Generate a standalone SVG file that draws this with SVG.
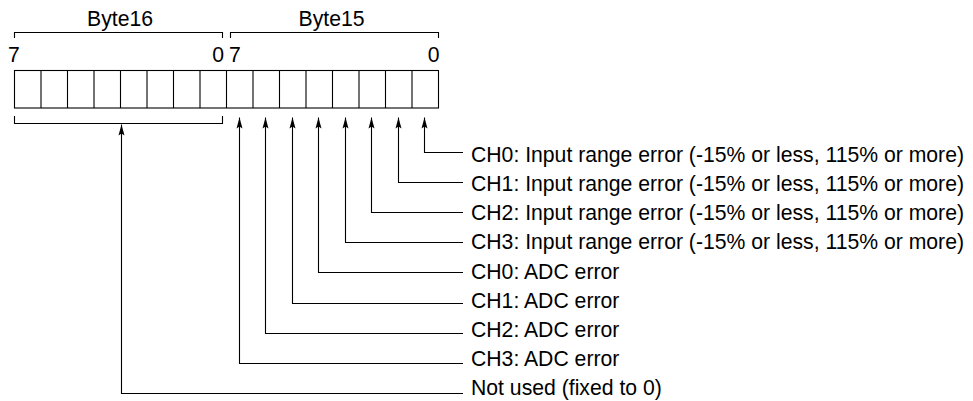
<svg xmlns="http://www.w3.org/2000/svg" width="973" height="401" viewBox="0 0 973 401">
<style>
  text { font-family: "Liberation Sans", Arial, Helvetica, sans-serif; font-size: 21.2px; fill: #000; }
  .ln { fill: none; stroke: #000; stroke-width: 1.1; }
  .cell { fill: #fff; stroke: #000; stroke-width: 1.1; }
</style>
<defs>
  <marker id="arr" markerUnits="userSpaceOnUse" markerWidth="11" markerHeight="7" refX="11" refY="3.5" orient="auto">
    <path d="M0,0.5 L11,3.5 L0,6.5 L2,3.5 z" fill="#000"/>
  </marker>
</defs>

<g id="byte16-header">
  <text x="120" y="26" text-anchor="middle">Byte16</text>
  <path class="ln" d="M14.5,38 V32.5 H222.5 V38"/>
  <text x="8" y="62">7</text>
  <text x="224" y="62" text-anchor="end">0</text>
</g>
<g id="byte15-header">
  <text x="331.5" y="26" text-anchor="middle">Byte15</text>
  <path class="ln" d="M230.5,38 V32.5 H438.5 V38"/>
  <text x="229" y="62">7</text>
  <text x="439.5" y="62" text-anchor="end">0</text>
</g>

<g id="register">
  <rect class="cell" x="14.5" y="70.5" width="424" height="37.5"/>
  <path class="ln" d="M41,70.5 V108 M67.5,70.5 V108 M94,70.5 V108 M120.5,70.5 V108 M147,70.5 V108 M173.5,70.5 V108 M200,70.5 V108 M226.5,70.5 V108 M253,70.5 V108 M279.5,70.5 V108 M306,70.5 V108 M332.5,70.5 V108 M359,70.5 V108 M385.5,70.5 V108 M412,70.5 V108"/>
</g>

<g id="byte16-bracket">
  <path class="ln" d="M14.5,116 V123.5 H222.5 V116"/>
</g>

<g id="connectors">
  <path class="ln" marker-end="url(#arr)" d="M463,152.5 H424.5 V117.5"/>
  <path class="ln" marker-end="url(#arr)" d="M463,182.5 H398.5 V117.5"/>
  <path class="ln" marker-end="url(#arr)" d="M463,212.5 H371.5 V117.5"/>
  <path class="ln" marker-end="url(#arr)" d="M463,242.5 H345.5 V117.5"/>
  <path class="ln" marker-end="url(#arr)" d="M463,272.5 H318.5 V117.5"/>
  <path class="ln" marker-end="url(#arr)" d="M463,303.5 H292.5 V117.5"/>
  <path class="ln" marker-end="url(#arr)" d="M463,333.5 H265.5 V117.5"/>
  <path class="ln" marker-end="url(#arr)" d="M463,363.5 H239.5 V117.5"/>
  <path class="ln" marker-end="url(#arr)" d="M463,393.5 H121.5 V124.5"/>
</g>

<g id="label-ch0-range"><text x="471" y="161.5">CH0: Input range error (-15% or less, 115% or more)</text></g>
<g id="label-ch1-range"><text x="471" y="190.5">CH1: Input range error (-15% or less, 115% or more)</text></g>
<g id="label-ch2-range"><text x="471" y="220">CH2: Input range error (-15% or less, 115% or more)</text></g>
<g id="label-ch3-range"><text x="471" y="249">CH3: Input range error (-15% or less, 115% or more)</text></g>
<g id="label-ch0-adc"><text x="471" y="278.5">CH0: ADC error</text></g>
<g id="label-ch1-adc"><text x="471" y="307.5">CH1: ADC error</text></g>
<g id="label-ch2-adc"><text x="471" y="336.5">CH2: ADC error</text></g>
<g id="label-ch3-adc"><text x="471" y="366">CH3: ADC error</text></g>
<g id="label-not-used"><text x="471" y="395">Not used (fixed to 0)</text></g>
</svg>
